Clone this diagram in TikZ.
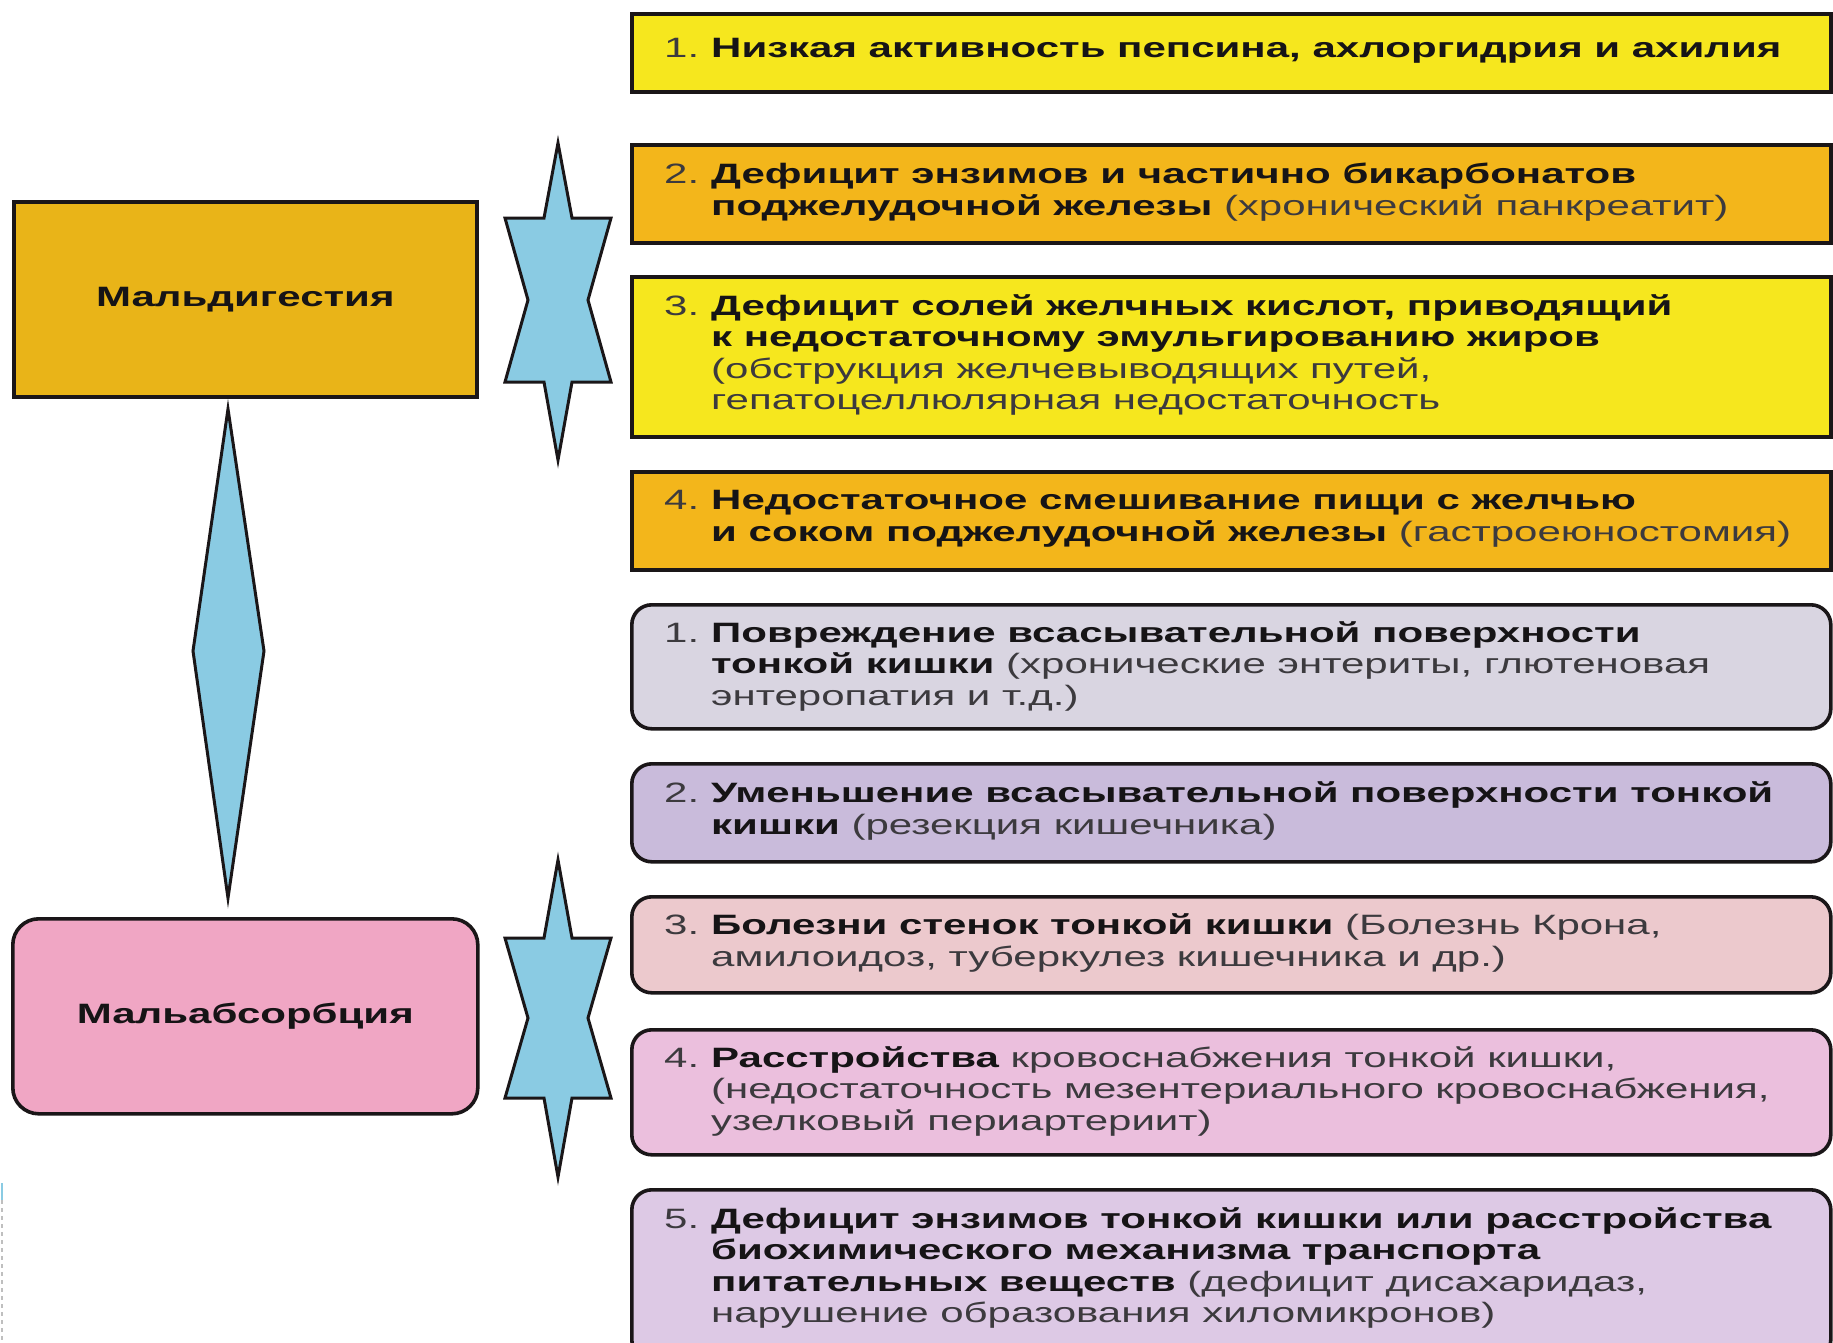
\documentclass[tikz,border=0pt]{standalone}
\usepackage{fontspec}
\setmainfont{Liberation Sans}[FakeStretch=1.5]
\definecolor{yel}{RGB}{246,231,30}
\definecolor{org}{RGB}{243,182,27}
\definecolor{orgL}{RGB}{233,180,24}
\definecolor{cA}{RGB}{217,213,225}
\definecolor{cB}{RGB}{201,187,219}
\definecolor{cC}{RGB}{236,201,205}
\definecolor{cD}{RGB}{235,191,221}
\definecolor{cE}{RGB}{221,201,229}
\definecolor{pinkL}{RGB}{240,166,196}
\definecolor{starblue}{RGB}{138,203,227}
\definecolor{edge}{RGB}{26,22,24}
\definecolor{txtgray}{RGB}{60,58,62}
\definecolor{txtdark}{RGB}{22,20,22}
\newcommand\nm[1]{\makebox[47pt][l]{#1}}
\newcommand\ind{\hspace*{47pt}}
\newcommand\bt[1]{{\bfseries\color{txtdark}#1}}
\tikzset{
  sqbox/.style={draw=edge, line width=3.6pt, inner sep=0pt},
  rdbox/.style={draw=edge, line width=3.6pt, inner sep=0pt, rounded corners=20pt},
  txt/.style={align=left, inner sep=0pt, anchor=west, text=txtgray,
     font=\fontsize{28}{31.5}\selectfont},
  lbl/.style={inner sep=0pt, text=txtdark, font=\fontsize{28}{31.5}\selectfont\bfseries},
  starsh/.style={draw=edge, line width=3pt, fill=starblue, line join=miter}
}
\begin{document}
\begin{tikzpicture}[x=1pt,y=-1pt]
\useasboundingbox (0,0) rectangle (1833,1342);
\clip (0,0) rectangle (1833,1342);
\fill[white] (0,0) rectangle (1833,1342);

% left boxes
\node[sqbox, fill=orgL, minimum width=463, minimum height=195, anchor=north west] (md) at (12,200) {};
\node[lbl] (mdt) at (md.center) {Мальдигестия};
\node[rdbox, rounded corners=26pt, fill=pinkL, minimum width=465, minimum height=195, anchor=north west] (ma) at (11,917) {};
\node[lbl] (mat) at (ma.center) {Мальабсорбция};

% diamond between left boxes
\draw[starsh] (228,409) -- (264,651) -- (228,898) -- (193,651) -- cycle;

% stars
\draw[starsh] (558,143) -- (544,218) -- (505,218) -- (528,300) -- (505,382) -- (544,382)
  -- (558,460) -- (572,382) -- (611,382) -- (588,300) -- (611,218) -- (572,218) -- cycle;
\draw[starsh] (558,860) -- (544,938) -- (505,938) -- (528,1018) -- (505,1098) -- (544,1098)
  -- (558,1177) -- (572,1098) -- (611,1098) -- (588,1018) -- (611,938) -- (572,938) -- cycle;

% right boxes
\node[sqbox, fill=yel, minimum width=1199, minimum height=78, anchor=north west] (r1) at (630,12) {};
\node[sqbox, fill=org, minimum width=1199, minimum height=98, anchor=north west] (r2) at (630,143) {};
\node[sqbox, fill=yel, minimum width=1199, minimum height=160, anchor=north west] (r3) at (630,275) {};
\node[sqbox, fill=org, minimum width=1199, minimum height=98, anchor=north west] (r4) at (630,470) {};
\node[rdbox, fill=cA, minimum width=1199, minimum height=124, anchor=north west] (r5) at (630,603) {};
\node[rdbox, fill=cB, minimum width=1199, minimum height=98, anchor=north west] (r6) at (630,762) {};
\node[rdbox, fill=cC, minimum width=1199, minimum height=96, anchor=north west] (r7) at (630,895) {};
\node[rdbox, fill=cD, minimum width=1199, minimum height=125, anchor=north west] (r8) at (630,1028) {};
\node[rdbox, fill=cE, minimum width=1199, minimum height=170, anchor=north west] (r9) at (630,1188) {};

\node[txt] (t1) at (664,51) {\nm{1.}\bt{Низкая активность пепсина, ахлоргидрия и ахилия}};
\node[txt] (t2) at (664,192) {\nm{2.}\bt{Дефицит энзимов и частично бикарбонатов}\\
  \ind\bt{поджелудочной железы} (хронический панкреатит)};
\node[txt] (t3) at (664,355) {\nm{3.}\bt{Дефицит солей желчных кислот, приводящий}\\
  \ind\bt{к недостаточному эмульгированию жиров}\\
  \ind(обструкция желчевыводящих путей,\\
  \ind гепатоцеллюлярная недостаточность};
\node[txt] (t4) at (664,519) {\nm{4.}\bt{Недостаточное смешивание пищи с желчью}\\
  \ind\bt{и соком поджелудочной железы} (гастроеюностомия)};
\node[txt] (t5) at (664,666) {\nm{1.}\bt{Повреждение всасывательной поверхности}\\
  \ind\bt{тонкой кишки} (хронические энтериты, глютеновая\\
  \ind энтеропатия и т.д.)};
\node[txt] (t6) at (664,811) {\nm{2.}\bt{Уменьшение всасывательной поверхности тонкой}\\
  \ind\bt{кишки} (резекция кишечника)};
\node[txt] (t7) at (664,943) {\nm{3.}\bt{Болезни стенок тонкой кишки} (Болезнь Крона,\\
  \ind амилоидоз, туберкулез кишечника и др.)};
\node[txt] (t8) at (664,1091) {\nm{4.}\bt{Расстройства} кровоснабжения тонкой кишки,\\
  \ind(недостаточность мезентериального кровоснабжения,\\
  \ind узелковый периартериит)};
\node[txt] (t9) at (664,1268) {\nm{5.}\bt{Дефицит энзимов тонкой кишки или расстройства}\\
  \ind\bt{биохимического механизма транспорта}\\
  \ind\bt{питательных веществ} (дефицит дисахаридаз,\\
  \ind нарушение образования хиломикронов)};

% faint dashed mark at the lower left edge
\draw[starblue, line width=2pt] (2,1183) -- (2,1200);
\draw[gray!50, line width=1.5pt, dash pattern=on 4pt off 4pt] (2,1200) -- (2,1342);
\end{tikzpicture}
\end{document}
